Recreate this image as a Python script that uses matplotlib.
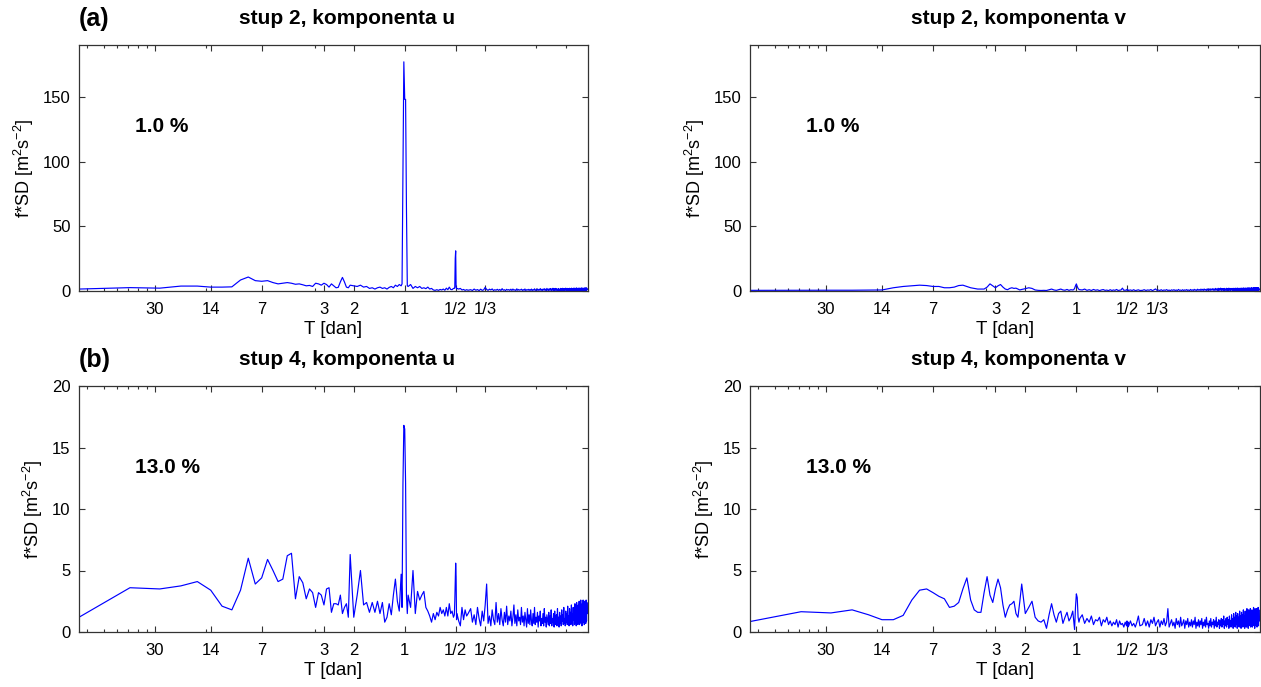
import numpy as np
import matplotlib
matplotlib.use("Agg")
import matplotlib.pyplot as plt
from matplotlib.ticker import NullFormatter

plt.rcParams['font.family'] = ['Liberation Sans', 'DejaVu Sans']
plt.rcParams['mathtext.default'] = 'regular'

# spectral estimates at harmonics k of an 84-day record (f = k / 84 cycles per day)
record_days = 84
harmonics = np.r_[1:41, 42:81:2, 81:89, 91:164:3, 165:172, 175:200:4, 206:1007:5]

# f*SD [m^2 s^-2], one value per harmonic
u_stup2 = [
    1.5, 2.6, 2.2, 3.8, 3.8, 3.0, 3.0, 3.2, 8.5, 10.8, 8.0, 7.5, 8.0, 6.5, 5.5, 6.0, 6.5, 6.0, 5.2, 5.5,
    4.8, 4.0, 4.3, 3.5, 6.0, 5.5, 4.5, 6.0, 5.0, 3.0, 5.5, 4.0, 2.5, 2.8, 7.0, 10.5, 7.0, 3.0, 2.5, 4.5,
    4.0, 3.5, 4.5, 3.0, 3.5, 2.0, 2.5, 1.5, 2.5, 3.0, 2.0, 2.5, 1.5, 2.8, 3.5, 2.5, 4.5, 3.5, 5.0, 4.0,
    5.5, 96, 177, 148, 148, 64, 4.0, 3.5,
    5.0, 2.0, 3.5, 2.5, 3.5, 2.0, 2.5, 1.8, 3.0, 1.5, 2.0, 0.8, 0.5, 1.0, 0.5, 1.2, 0.8, 1.5, 0.6, 2.2,
    1.0, 3.0, 1.2, 1.0, 2.0,
    2.0, 3.0, 25, 31, 3.0, 1.5, 2.0,
    1.5, 2.0, 0.8, 1.2, 0.5, 1.0, 0.6,
    1.0, 0.4, 1.5, 0.6, 1.1, 0.3, 1.4, 0.5, 0.9, 2.8,
    1.2, 0.5, 1.4, 0.8, 1.6, 0.4, 1.0, 0.6, 1.3, 0.5,
    1.2, 0.4, 1.8, 0.6, 1.0, 0.3, 1.3, 0.7, 1.1, 0.5,
    1.4, 0.4, 1.5, 0.6, 1.0, 0.3, 1.7, 0.5, 1.2, 0.6,
    0.9, 1.4, 0.4, 1.1, 0.5, 1.6, 0.3, 1.0, 0.7, 1.3,
    0.4, 1.2, 0.5, 1.5, 0.3, 1.1, 0.6, 1.7, 0.4, 1.0,
    0.5, 1.6, 0.4, 1.2, 0.6, 1.9, 0.5, 1.3, 0.3, 1.5,
    0.7, 1.8, 0.5, 1.4, 0.4, 2.0, 0.6, 1.5, 0.3, 1.7,
    0.8, 1.9, 0.4, 1.6, 0.6, 2.1, 0.5, 1.7, 0.4, 2.0,
    0.6, 1.8, 0.5, 1.5, 0.3, 1.9, 0.6, 1.4, 0.4, 2.0,
    0.5, 1.7, 0.6, 2.1, 0.4, 1.6, 0.5, 1.9, 0.7, 2.2,
    0.4, 1.8, 0.6, 2.0, 0.5, 1.7, 0.3, 2.1, 0.6, 1.9,
    0.5, 2.2, 0.4, 1.8, 0.7, 2.0, 0.5, 2.3, 0.4, 1.9,
    0.6, 2.1, 0.5, 2.4, 0.4, 1.8, 0.6, 2.2, 0.5, 2.0,
    0.7, 2.3, 0.4, 1.9, 0.6, 2.4, 0.5, 2.1, 0.4, 2.2,
    0.6, 2.0, 0.5, 2.4, 0.4, 2.2, 0.7, 2.5, 0.5, 2.1,
    1.2,
]
v_stup2 = [
    0.5, 0.6, 0.6, 0.6, 0.7, 0.8, 2.5, 3.5, 4.0, 4.5, 4.2, 3.5, 3.5, 2.5, 2.5, 3.0, 4.2, 4.5, 3.5, 2.5,
    2.0, 1.5, 1.5, 1.5, 3.0, 5.5, 4.0, 2.5, 4.0, 5.0, 3.0, 1.5, 1.0, 2.0, 2.5, 2.0, 2.2, 1.5, 0.8, 1.2,
    1.8, 2.5, 2.0, 0.8, 0.5, 0.4, 0.5, 0.4, 1.0, 1.5, 0.8, 0.5, 1.0, 1.5, 0.8, 0.6, 1.2, 0.5, 1.0, 0.8,
    1.0, 2.0, 4.0, 5.5, 3.5, 2.0, 1.2, 1.0,
    0.8, 1.5, 0.5, 1.0, 0.4, 1.2, 0.6, 0.9, 0.3, 0.8, 1.1, 0.5, 0.7, 0.3, 1.0, 0.4, 0.8, 0.5, 1.2, 0.4,
    0.6, 0.8, 2.2, 0.5, 0.7,
    0.5, 0.8, 1.2, 1.0, 0.4, 0.7, 0.5,
    0.8, 0.4, 1.0, 0.3, 0.6, 0.9, 0.4,
    0.5, 1.0, 0.4, 0.8, 0.6, 1.1, 0.3, 0.9, 1.6, 0.5,
    0.7, 0.4, 1.0, 0.3, 0.8, 0.5, 1.1, 0.4, 0.7, 0.3,
    0.9, 0.5, 1.0, 0.4, 0.8, 0.3, 1.2, 0.5, 0.7, 0.4,
    1.0, 0.3, 0.9, 0.5, 1.1, 0.4, 0.8, 0.3, 1.2, 0.5,
    0.9, 0.4, 1.3, 0.5, 1.0, 0.3, 1.4, 0.6, 1.1, 0.4,
    1.5, 0.5, 1.3, 0.4, 1.6, 0.6, 1.2, 0.3, 1.7, 0.5,
    1.4, 0.6, 1.8, 0.4, 1.5, 0.7, 1.9, 0.5, 1.6, 0.4,
    2.0, 0.6, 1.7, 0.5, 2.1, 0.4, 1.8, 0.7, 2.2, 0.5,
    1.9, 0.6, 1.8, 0.4, 2.0, 0.5, 1.7, 0.6, 2.1, 0.4,
    1.8, 0.5, 2.2, 0.6, 1.9, 0.4, 2.0, 0.7, 1.8, 0.5,
    2.1, 0.4, 1.9, 0.6, 2.2, 0.5, 1.8, 0.4, 2.3, 0.6,
    2.0, 0.5, 2.1, 0.4, 1.9, 0.6, 2.3, 0.5, 2.0, 0.4,
    2.2, 0.6, 2.4, 0.5, 2.0, 0.4, 2.3, 0.6, 2.1, 0.5,
    2.4, 0.4, 2.2, 0.6, 2.5, 0.5, 2.1, 0.4, 2.3, 0.6,
    2.5, 0.5, 2.2, 0.4, 2.4, 0.6, 2.6, 0.5, 2.3, 0.4,
    2.5, 0.6, 2.4, 0.5, 2.6, 0.4, 2.3, 0.6, 2.5, 0.5,
    1.5,
]
u_stup4 = [
    1.2, 3.6, 3.5, 3.75, 4.1, 3.4, 2.1, 1.8, 3.4, 6.0, 3.9, 4.4, 5.9, 5.0, 4.1, 4.3, 6.2, 6.4, 2.7, 4.5,
    4.0, 2.7, 3.5, 3.2, 2.0, 3.2, 3.0, 2.2, 3.5, 3.6, 1.6, 2.3, 2.3, 2.2, 3.0, 1.5, 2.0, 2.3, 1.2, 6.3,
    1.2, 3.0, 5.0, 2.2, 2.4, 1.6, 2.4, 1.6, 2.5, 1.5, 2.4, 0.8, 1.2, 2.3, 1.4, 3.0, 4.3, 2.5, 1.7, 4.7,
    2.0, 12.0, 16.8, 16.5, 12.1, 3.0, 1.5, 3.0,
    2.0, 5.0, 1.5, 3.3, 2.6, 3.0, 3.3, 2.0, 1.7, 1.3, 0.8, 1.5, 1.0, 1.6, 1.3, 2.0, 1.5, 1.8, 1.3, 2.0,
    1.3, 2.3, 1.5, 1.7, 1.2,
    1.4, 2.5, 4.0, 5.6, 4.5, 1.0, 1.5,
    0.9, 0.5, 2.0, 1.0, 1.8, 1.3, 1.5,
    1.9, 0.8, 1.4, 0.6, 2.0, 1.1, 0.5, 1.7, 0.9, 2.2,
    3.9, 0.7, 1.3, 0.5, 1.8, 1.0, 0.6, 2.4, 0.8, 1.5,
    0.6, 1.9, 1.0, 0.5, 1.6, 0.8, 2.1, 0.6, 1.3, 0.9,
    1.7, 0.5, 1.2, 2.2, 0.7, 1.4, 0.5, 1.8, 0.9, 1.2,
    0.6, 2.0, 0.8, 1.3, 0.5, 1.6, 1.0, 0.4, 1.9, 0.7,
    1.4, 0.6, 1.8, 0.9, 0.5, 1.5, 0.7, 2.0, 0.6, 1.2,
    0.8, 1.6, 0.4, 1.3, 0.9, 1.7, 0.5, 1.1, 0.7, 1.5,
    0.5, 1.9, 0.8, 1.2, 0.4, 1.4, 1.0, 0.6, 1.6, 0.5,
    1.3, 0.7, 1.8, 0.5, 1.1, 0.8, 1.5, 0.4, 1.7, 0.9,
    0.6, 1.4, 0.5, 1.9, 0.8, 1.2, 0.4, 1.6, 0.7, 1.3,
    0.5, 1.8, 0.9, 1.4, 0.6, 2.0, 0.7, 1.1, 0.5, 1.7,
    0.8, 1.5, 0.6, 2.1, 0.7, 1.3, 0.5, 1.9, 0.9, 1.6,
    0.6, 2.2, 0.8, 1.5, 0.5, 2.0, 1.0, 1.7, 0.6, 2.3,
    0.7, 1.8, 0.5, 2.4, 0.9, 1.6, 0.6, 2.2, 0.8, 2.5,
    0.6, 1.9, 1.0, 2.6, 0.7, 2.0, 0.5, 2.3, 0.9, 2.6,
    0.8, 2.2, 0.6, 2.5, 1.0, 2.1, 0.7, 2.6, 0.9, 2.4,
    1.5,
]
v_stup4 = [
    0.85, 1.65, 1.55, 1.8, 1.4, 1.0, 1.0, 1.35, 2.6, 3.4, 3.5, 3.2, 2.9, 2.7, 2.0, 2.1, 2.4, 3.5, 4.4, 2.6,
    1.8, 1.6, 1.6, 3.2, 4.5, 3.0, 2.4, 3.5, 4.3, 3.6, 2.2, 1.2, 1.8, 2.2, 2.3, 2.5, 1.5, 1.2, 2.5, 3.9,
    1.5, 2.0, 2.5, 1.2, 0.9, 0.8, 1.0, 0.3, 1.4, 2.3, 1.4, 0.8, 1.5, 1.7, 0.7, 1.2, 1.6, 0.9, 1.2, 1.7,
    0.9, 0.2, 2.0, 3.1, 2.8, 1.2, 0.8, 1.1,
    1.4, 0.7, 1.1, 0.8, 1.3, 0.6, 1.0, 0.9, 1.2, 0.5, 1.0, 0.8, 1.2, 0.6, 0.9, 0.5, 0.8, 0.6, 1.0, 0.4,
    0.9, 0.6, 0.7, 0.4, 0.8,
    0.6, 0.5, 0.9, 0.7, 0.4, 0.8, 0.5,
    0.9, 0.5, 0.7, 0.4, 0.8, 1.3, 0.5,
    0.6, 1.1, 0.5, 0.9, 0.4, 1.0, 0.7, 1.2, 0.5, 0.8,
    1.0, 0.4, 0.9, 0.6, 1.1, 0.5, 0.8, 1.9, 0.4, 0.7,
    1.0, 0.5, 0.8, 0.3, 1.1, 0.6, 0.9, 0.4, 1.2, 0.5,
    0.7, 1.0, 0.3, 0.9, 0.6, 1.1, 0.4, 0.8, 0.5, 1.0,
    0.4, 0.9, 0.6, 1.2, 0.3, 0.8, 0.5, 1.0, 0.4, 0.9,
    0.6, 1.1, 0.3, 0.8, 0.5, 1.0, 0.4, 1.2, 0.6, 0.7,
    0.3, 0.9, 0.5, 1.1, 0.4, 0.8, 0.6, 1.0, 0.3, 0.9,
    0.5, 1.2, 0.4, 0.8, 0.6, 1.0, 0.3, 0.9, 0.5, 1.1,
    0.4, 1.0, 0.6, 1.3, 0.3, 0.9, 0.5, 1.1, 0.4, 1.2,
    0.6, 1.0, 0.3, 1.3, 0.5, 0.9, 0.4, 1.4, 0.6, 1.1,
    0.3, 1.5, 0.5, 1.2, 0.4, 1.6, 0.6, 1.3, 0.3, 1.5,
    0.5, 1.2, 0.4, 1.7, 0.6, 1.3, 0.3, 1.6, 0.5, 1.4,
    0.4, 1.8, 0.6, 1.3, 0.3, 1.7, 0.5, 1.5, 0.4, 1.9,
    0.6, 1.4, 0.3, 1.8, 0.5, 1.6, 0.7, 1.9, 0.4, 1.5,
    0.6, 1.8, 0.4, 1.6, 0.7, 2.0, 0.5, 1.7, 0.3, 1.9,
    0.6, 1.6, 0.5, 1.9, 0.4, 1.7, 0.7, 2.0, 0.5, 1.8,
    0.9,
]

titles = ['stup 2, komponenta u', 'stup 2, komponenta v', 'stup 4, komponenta u', 'stup 4, komponenta v']
percent_labels = ['1.0 %', '1.0 %', '13.0 %', '13.0 %']
period_days = [30, 14, 7, 3, 2, 1, 1 / 2, 1 / 3]
period_labels = ['30', '14', '7', '3', '2', '1', '1/2', '1/3']
minor_periods = [75, 60, 50, 43, 37.5, 33.3, 15, 3.4, 1 / 6, 1 / 9]

freq = harmonics / record_days
series = [u_stup2, v_stup2, u_stup4, v_stup4]
for s in series:
    assert len(s) == len(harmonics), len(s)

W, H = 1261, 687
fig = plt.figure(figsize=(W / 100, H / 100), dpi=100)

# axes boxes in pixels: (left, right, top, bottom)
boxes = [(79, 588, 45, 291), (750, 1260, 45, 291), (79, 588, 386, 632), (750, 1260, 386, 632)]
ylims = [(0, 190), (0, 190), (0, 20), (0, 20)]
yticks = [[0, 50, 100, 150], [0, 50, 100, 150], [0, 5, 10, 15, 20], [0, 5, 10, 15, 20]]

for i, (x0, x1, yt, yb) in enumerate(boxes):
    ax = fig.add_axes([x0 / W, 1 - yb / H, (x1 - x0) / W, (yb - yt) / H])
    ax.plot(freq, series[i], color='#0000ff', lw=0.85)
    ax.set_xscale('log')
    ax.set_xlim(freq[0], 12.1)
    ax.set_ylim(*ylims[i])
    ax.set_yticks(yticks[i])
    ax.set_xticks(1 / np.array(period_days), period_labels)
    ax.set_xticks(1 / np.array(minor_periods), minor=True)
    ax.xaxis.set_minor_formatter(NullFormatter())
    ax.tick_params(which='both', direction='in', top=True, right=True, labelsize=12, color='#333333')
    ax.tick_params(which='major', length=4.5, width=0.8)
    ax.tick_params(which='minor', length=2.5, width=0.8)
    ax.tick_params(axis='x', which='major', pad=8)
    ax.tick_params(axis='y', which='major', pad=6)
    for sp in ax.spines.values():
        sp.set_linewidth(0.9)
        sp.set_color('#333333')
    ax.set_xlabel('T [dan]', fontsize=13.5, labelpad=3)
    ax.set_ylabel(r'f*SD [m$^2$s$^{-2}$]', fontsize=13, labelpad=5)
    ax.text(0.526, 1 + 21 / (yb - yt), titles[i], transform=ax.transAxes, fontsize=15,
            fontweight='bold', ha='center', va='baseline')
    ax.text(0.11, 0.67, percent_labels[i], transform=ax.transAxes, fontsize=15,
            fontweight='bold', va='center', ha='left')

fig.text(79 / W, 1 - 26 / H, '(a)', fontsize=18, fontweight='bold', va='baseline')
fig.text(79 / W, 1 - 367 / H, '(b)', fontsize=18, fontweight='bold', va='baseline')

fig.savefig('out.png', dpi=100)
